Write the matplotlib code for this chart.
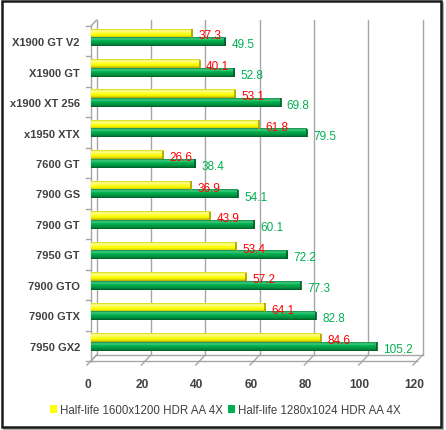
import numpy as np
import matplotlib.pyplot as plt
import matplotlib.transforms as mtransforms
from matplotlib.colors import LinearSegmentedColormap
from matplotlib.patches import Patch, Rectangle
from matplotlib.lines import Line2D

plt.rcParams['font.family'] = ['Liberation Sans', 'DejaVu Sans']

cards = ["X1900 GT V2", "X1900 GT", "x1900 XT 256", "x1950 XTX", "7600 GT",
         "7900 GS", "7900 GT", "7950 GT", "7900 GTO", "7900 GTX", "7950 GX2"]
hl_1600 = [37.3, 40.1, 53.1, 61.8, 26.6, 36.9, 43.9, 53.4, 57.2, 64.1, 84.6]
hl_1280 = [49.5, 52.8, 69.8, 79.5, 38.4, 54.1, 60.1, 72.2, 77.3, 82.8, 105.2]
series_names = ["Half-life 1600x1200 HDR AA 4X", "Half-life 1280x1024 HDR AA 4X"]
x_ticks = [0, 20, 40, 60, 80, 100, 120]

YELLOW = "#ffff00"
GREEN = "#00b050"
TXT = "#404040"
GRID = "#a6a6a6"

W, H = 446, 431
fig = plt.figure(figsize=(W / 100, H / 100), dpi=100)
fig.patch.set_facecolor("white")

# plot area in pixels
left_px, right_px, top_px, bot_px = 91, 417, 27, 362
ax = fig.add_axes([left_px / W, 1 - bot_px / H, (right_px - left_px) / W, (bot_px - top_px) / H])
for s in ax.spines.values():
    s.set_visible(False)
ax.set_facecolor("none")

# 3d depth offset (back wall shifted up-right)
depth = mtransforms.ScaledTranslation(5.5 / 100, 6 / 100, fig.dpi_scale_trans)

y = np.arange(len(cards))
bh = 0.28
y_yel = y - 0.26
y_grn = y + 0.02

# vertical shading for the "3d" bars (top -> bottom)
yel_cmap = LinearSegmentedColormap.from_list(
    "yel", ["#d8d800", "#ffffa0", "#ffff40", "#ffff00", "#e8e800", "#b0a800"])
grn_cmap = LinearSegmentedColormap.from_list(
    "grn", ["#1a8a48", "#40d080", "#00b050", "#00a048", "#008a3c", "#005c28"])
grad = np.linspace(0, 1, 32).reshape(-1, 1)

def draw_bars(yc, vals, cmap, end_col):
    for yi, v in zip(yc, vals):
        ax.imshow(grad, cmap=cmap, aspect="auto", interpolation="bilinear",
                  extent=(0, v, yi + bh / 2, yi - bh / 2), zorder=3)
        ax.plot([v, v], [yi - bh / 2, yi + bh / 2], color=end_col, lw=1.2,
                solid_capstyle="butt", zorder=4)

draw_bars(y_yel, hl_1600, yel_cmap, "#a8a000")
draw_bars(y_grn, hl_1280, grn_cmap, "#005c28")

ax.set_xlim(0, 120)
ax.set_ylim(len(cards) - 0.5, -0.5)

# back wall gridlines
for v in x_ticks:
    ln = Line2D([v, v], [0, 1], color=GRID, lw=1.0,
                transform=ax.get_xaxis_transform() + depth, zorder=0, clip_on=False)
    ax.add_line(ln)

# left wall and floor outlines
ax_tr = ax.transAxes
ax.add_line(Line2D([0, 0], [0, 1], color=GRID, lw=1.0, transform=ax_tr, clip_on=False, zorder=0))
ax.add_line(Line2D([0, 1], [0, 0], color=GRID, lw=1.0, transform=ax_tr, clip_on=False, zorder=0))
ax.add_line(Line2D([0, 1], [0, 0], color=GRID, lw=1.0, transform=ax_tr + depth, clip_on=False, zorder=0))
for yy in (0, 1):
    p0 = ax_tr.transform((0, yy))
    p1 = (ax_tr + depth).transform((0, yy))
    fig.add_artist(Line2D([p0[0] / W, p1[0] / W], [p0[1] / H, p1[1] / H], color=GRID, lw=1.0))
for v in x_ticks:
    p0 = ax.transData.transform((v, len(cards) - 0.5))
    p1 = (ax.transData + depth).transform((v, len(cards) - 0.5))
    fig.add_artist(Line2D([p0[0] / W, p1[0] / W], [p0[1] / H, p1[1] / H], color=GRID, lw=1.0))
    fig.add_artist(Line2D([p0[0] / W, (p0[0] - 4) / W], [p0[1] / H, (p0[1] - 4) / H], color=GRID, lw=1.0))

# category separator ticks on the left
for k in range(len(cards) + 1):
    p0 = ax.transData.transform((0, k - 0.5))
    fig.add_artist(Line2D([(p0[0] - 5) / W, p0[0] / W], [p0[1] / H, p0[1] / H], color=GRID, lw=1.0))

for yi, v in zip(y_yel, hl_1600):
    ax.text(v + 2.3, yi + 0.07, f"{v:.1f}", color="#ff0000", fontsize=8.5,
            va="center", ha="left", zorder=5)
for yi, v in zip(y_grn, hl_1280):
    ax.text(v + 2.3, yi + 0.08, f"{v:.1f}", color="#00b050", fontsize=8.5,
            va="center", ha="left", zorder=5)

ax.set_yticks(y)
ax.set_yticklabels(cards, fontsize=8.0, fontweight="bold", color=TXT)
ax.set_xticks(x_ticks)
ax.set_xticklabels([str(t) for t in x_ticks], fontsize=8.6, fontweight="bold", color=TXT)
ax.tick_params(axis="y", length=0, pad=8)
ax.tick_params(axis="x", length=0, pad=12)
shift = mtransforms.ScaledTranslation(-3 / 100, 0, fig.dpi_scale_trans)
for lab in ax.get_xticklabels():
    lab.set_transform(lab.get_transform() + shift)

handles = [Patch(facecolor=YELLOW, edgecolor="none"), Patch(facecolor=GREEN, edgecolor="none")]
fig.legend(handles, series_names, loc="center", bbox_to_anchor=(0.505, 0.046), ncol=2,
           frameon=False, fontsize=8.3, labelcolor=TXT, handlelength=0.6, handleheight=0.6,
           handletextpad=0.3, columnspacing=0.4)

# chart border with shadow
fig.add_artist(Rectangle((3 / W, 0), 441 / W, 428 / H, transform=fig.transFigure,
                         facecolor="#b0b0b0", edgecolor="none", zorder=-2))
fig.add_artist(Rectangle((1.5 / W, 3.5 / H), 439.5 / W, 426 / H, transform=fig.transFigure,
                         facecolor="white", edgecolor="#1a1a1a", lw=1.8, zorder=-1))

fig.savefig("out.png", dpi=100)
